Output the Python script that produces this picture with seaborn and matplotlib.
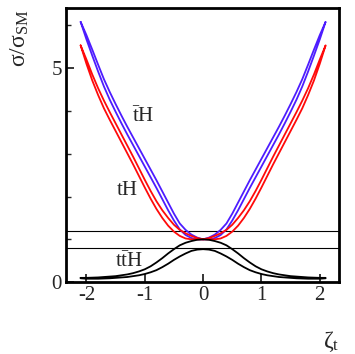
import numpy as np
import pandas as pd
import seaborn as sns
import matplotlib
matplotlib.use("Agg")
import matplotlib.pyplot as plt

# zeta_t grid (right half, mirrored for the left half)
zeta_half = [0.0, 0.1, 0.2, 0.3, 0.4, 0.5, 0.6, 0.7, 0.8, 0.9, 1.0,
             1.1, 1.2, 1.3, 1.4, 1.5, 1.6, 1.7, 1.8, 1.9, 2.0, 2.1]

# tbar H band (blue): inner / outer edge
tbarh_inner = [1.00, 1.04, 1.11, 1.22, 1.37, 1.60, 1.86, 2.12, 2.38, 2.63, 2.88,
               3.13, 3.38, 3.63, 3.89, 4.16, 4.44, 4.74, 5.08, 5.43, 5.77, 6.08]
tbarh_outer = [1.00, 1.00, 1.03, 1.10, 1.23, 1.44, 1.68, 1.94, 2.20, 2.45, 2.70,
               2.95, 3.20, 3.45, 3.71, 3.98, 4.26, 4.57, 4.92, 5.29, 5.67, 6.08]
# tH band (red)
th_inner = [1.00, 1.03, 1.08, 1.14, 1.22, 1.34, 1.50, 1.68, 1.89, 2.13, 2.39,
            2.66, 2.93, 3.19, 3.45, 3.71, 3.97, 4.24, 4.53, 4.85, 5.20, 5.53]
th_outer = [1.00, 1.00, 1.00, 1.02, 1.08, 1.18, 1.32, 1.50, 1.71, 1.95, 2.21,
            2.48, 2.75, 3.01, 3.27, 3.53, 3.79, 4.06, 4.37, 4.71, 5.10, 5.53]
# ttbar H band (black)
tth_upper = [1.00, 0.99, 0.96, 0.92, 0.86, 0.77, 0.67, 0.56, 0.46, 0.37, 0.30,
             0.25, 0.21, 0.18, 0.16, 0.14, 0.13, 0.12, 0.11, 0.105, 0.10, 0.10]
tth_lower = [0.77, 0.76, 0.73, 0.67, 0.60, 0.52, 0.43, 0.35, 0.28, 0.23, 0.19,
             0.16, 0.14, 0.12, 0.11, 0.10, 0.09, 0.085, 0.08, 0.08, 0.08, 0.09]

hlines = [1.19, 0.79]

band_names = ["tbarH", "tH", "ttH"]
band_colors = {"tbarH": "#4d1cff", "tH": "#ff0a0a", "ttH": "black"}


def full(half):
    half = np.asarray(half)
    return np.concatenate([half[:0:-1], half])


zeta = np.concatenate([-np.asarray(zeta_half)[:0:-1], zeta_half])

rows = []
for name, a, b in [("tbarH", tbarh_inner, tbarh_outer),
                   ("tH", th_inner, th_outer),
                   ("ttH", tth_upper, tth_lower)]:
    # closed loop: first edge left->right, second edge right->left
    xs = np.concatenate([zeta, zeta[::-1], zeta[:1]])
    ys = np.concatenate([full(a), full(b)[::-1], full(a)[:1]])
    rows.append(pd.DataFrame({"zeta": xs, "ratio": ys, "band": name}))
df = pd.concat(rows, ignore_index=True)

sns.set_style("ticks")
plt.rcParams["font.family"] = ["Liberation Serif", "DejaVu Serif"]
plt.rcParams["mathtext.fontset"] = "custom"
plt.rcParams["mathtext.rm"] = "Liberation Serif"
plt.rcParams["mathtext.it"] = "Liberation Serif:italic"

fig = plt.figure(figsize=(3.55, 3.54), dpi=100)
ax = fig.add_axes([0.186, 0.203, 0.769, 0.774])

for y in hlines:
    ax.axhline(y, color="black", lw=0.8, zorder=1)

sns.lineplot(data=df, x="zeta", y="ratio", hue="band", units="band",
             estimator=None, sort=False, palette=band_colors,
             hue_order=band_names, lw=1.3, legend=False, ax=ax)

ax.set_xlim(-2.35, 2.33)
ax.set_ylim(0, 6.4)
ax.set_xticks([-2, -1, 0, 1, 2])
ax.set_xticklabels(["-2", "-1", "0", "1", "2"])
ax.set_yticks([0, 5])
ax.set_yticks([1, 2, 3, 4, 6], minor=True)
ax.tick_params(axis="both", which="major", direction="in", length=6,
               width=1.3, labelsize=15, pad=3)
ax.tick_params(axis="y", which="minor", direction="in", length=3.5, width=1.0)
for s in ax.spines.values():
    s.set_linewidth(2.0)
    s.set_color("black")
    s.set_visible(True)

ax.set_xlabel("ζ$_{\\rm t}$", fontsize=17)
ax.xaxis.set_label_coords(0.97, -0.17)
ax.set_ylabel("σ/σ$_{\\rm SM}$", fontsize=17)
ax.yaxis.set_label_coords(-0.13, 0.89)

ax.text(-1.03, 3.86, r"$\bar{\mathrm{t}}\mathrm{H}$", fontsize=15, ha="center", va="center")
ax.text(-1.30, 2.13, "tH", fontsize=15, ha="center", va="center")
ax.text(-1.27, 0.47, r"$\mathrm{t}\bar{\mathrm{t}}\mathrm{H}$", fontsize=15, ha="center", va="center")

fig.savefig("out.png", dpi=100)
